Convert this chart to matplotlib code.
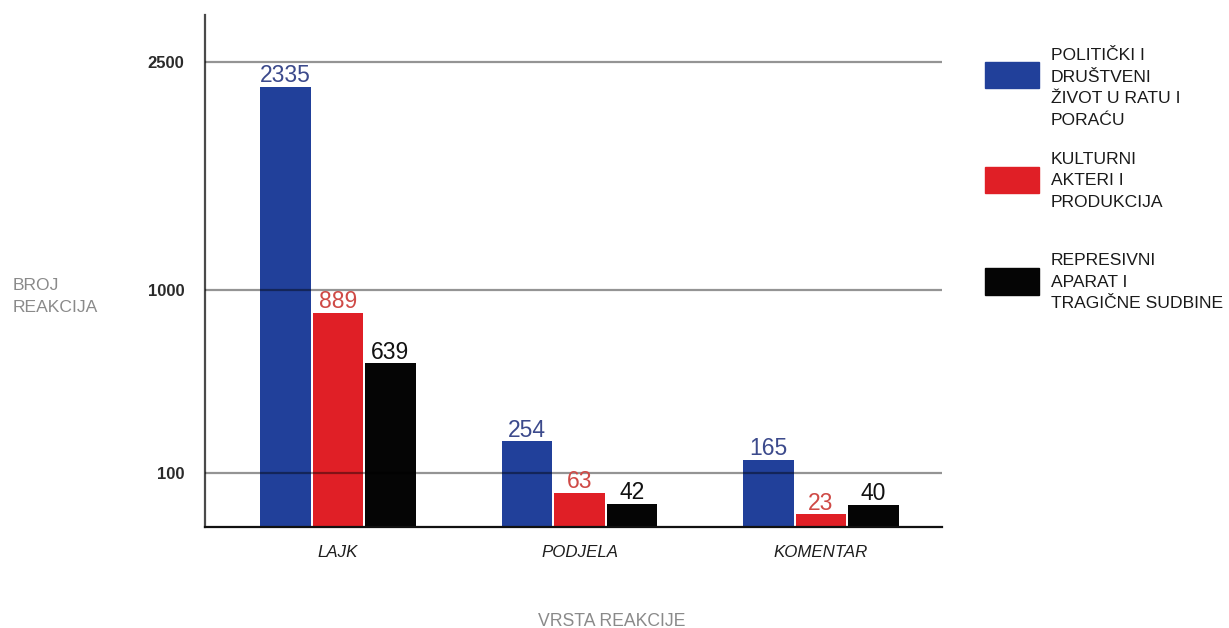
import numpy as np
import matplotlib
matplotlib.use("Agg")
import matplotlib.pyplot as plt
from matplotlib.patches import Rectangle

# ---- data -------------------------------------------------------------
categories = ["LAJK", "PODJELA", "KOMENTAR"]
series_names = [
    "POLITIČKI I\nDRUŠTVENI\nŽIVOT U RATU I\nPORAĆU",
    "KULTURNI\nAKTERI I\nPRODUKCIJA",
    "REPRESIVNI\nAPARAT I\nTRAGIČNE SUDBINE",
]
politicki = [2335, 254, 165]
kulturni = [889, 63, 23]
represivni = [639, 42, 40]
y_ticks = [100, 1000, 2500]

series_values = [politicki, kulturni, represivni]
bar_colors = ["#21409a", "#e01f26", "#050505"]
label_colors = ["#3c4a8c", "#cf4a46", "#111111"]

plt.rcParams["font.family"] = ["Liberation Sans", "DejaVu Sans"]

# ---- piecewise axis scale anchored at the tick values -----------------
knots = np.array([0.0, 100.0, 1000.0, 2500.0])
knot_pos = np.array([0.0, 53.8, 236.5, 464.5])
hi_slope = (knot_pos[-1] - knot_pos[-2]) / (knots[-1] - knots[-2])
lo_slope = knot_pos[1] / knots[1]


def fwd(v):
    v = np.asarray(v, dtype=float)
    out = np.interp(v, knots, knot_pos)
    out = np.where(v > knots[-1], knot_pos[-1] + (v - knots[-1]) * hi_slope, out)
    out = np.where(v < 0, v * lo_slope, out)
    return out


def inv(p):
    p = np.asarray(p, dtype=float)
    out = np.interp(p, knot_pos, knots)
    out = np.where(p > knot_pos[-1], knots[-1] + (p - knot_pos[-1]) / hi_slope, out)
    out = np.where(p < 0, p / lo_slope, out)
    return out


W, H = 1229, 628
fig = plt.figure(figsize=(W / 100, H / 100), dpi=100)
ax = fig.add_axes([205 / W, 1 - 526.5 / H, (942 - 205) / W, (526.5 - 15) / H])
ax.set_yscale("function", functions=(fwd, inv))

x = np.arange(len(categories))
bw = 0.211
step = 0.2174
for i, (vals, col, lcol) in enumerate(zip(series_values, bar_colors, label_colors)):
    xs = x + (i - 1) * step
    ax.bar(xs, vals, width=bw, color=col, zorder=2)
    for xi, v in zip(xs, vals):
        ax.annotate(f"{v}", (xi, v), xytext=(0, 3.3), textcoords="offset points",
                    ha="center", va="baseline", fontsize=16.5, color=lcol, zorder=4)

ax.set_xlim(-0.5507, 2.501)
ax.set_ylim(0, 2809)

# grid lines sit over the bars and darken them slightly
for t in y_ticks:
    ax.axhline(t, color="black", alpha=0.42, lw=1.6, zorder=3)

ax.set_yticks(y_ticks)
ax.set_yticklabels([str(t) for t in y_ticks], fontsize=12, color="#2a2a2a",
                   fontweight="bold")
ax.yaxis.set_minor_locator(matplotlib.ticker.NullLocator())
ax.tick_params(axis="y", length=0, pad=15)
ax.set_xticks(x)
ax.set_xticklabels(categories, fontsize=12.2, style="italic", color="#1e1e1e")
ax.tick_params(axis="x", length=0, pad=13)

for s in ["top", "right"]:
    ax.spines[s].set_visible(False)
ax.spines["left"].set_color("#4a4a4a")
ax.spines["left"].set_linewidth(1.6)
ax.spines["bottom"].set_color("#111111")
ax.spines["bottom"].set_linewidth(1.6)

# axis titles
fig.text(13 / W, 1 - 296.5 / H, "BROJ\nREAKCIJA", ha="left", va="center",
         fontsize=12.6, color="#8a8a8a", linespacing=1.5)
fig.text(611.7 / W, 1 - 626 / H, "VRSTA REAKCIJE", ha="center", va="baseline",
         fontsize=12.7, color="#8a8a8a")

# legend drawn as swatches with stacked text lines
patch_tops = [61.7, 166.7, 268.0]
first_baselines = [60.0, 163.7, 265.0]
pitch = 21.7
for name, col, ptop, base in zip(series_names, bar_colors, patch_tops, first_baselines):
    fig.patches.append(Rectangle((985 / W, 1 - (ptop + 26.6) / H), 54 / W, 26.6 / H,
                                 transform=fig.transFigure, color=col, figure=fig))
    for k, line in enumerate(name.split("\n")):
        fig.text(1051 / W, 1 - (base + k * pitch) / H, line, ha="left",
                 va="baseline", fontsize=12.6, color="#1a1a1a")

fig.savefig("out.png", dpi=100)
